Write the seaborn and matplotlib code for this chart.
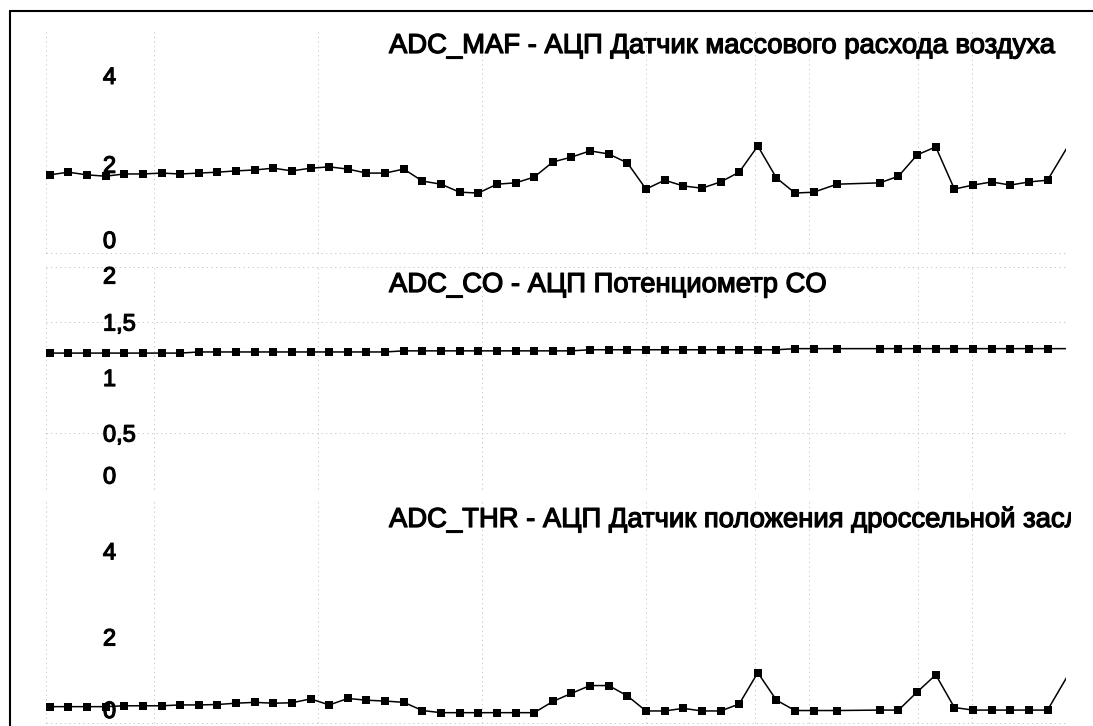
import matplotlib
matplotlib.use('Agg')
import matplotlib.pyplot as plt
import matplotlib.patheffects as pe
from matplotlib.lines import Line2D
from matplotlib.transforms import Bbox, TransformedBbox
import seaborn as sns

# sample times (sample index units; the log has a short gap near the end,
# the last sample lies past the right edge of the chart)
time_s = [0, 1, 2, 3, 4, 5, 6, 7, 8, 9,
          10, 11, 12, 13, 14, 15, 16, 17, 18, 19,
          20, 21, 22, 23, 24, 25, 26, 27, 28, 29,
          30, 31, 32, 33, 34, 35, 36, 37, 38, 39,
          40, 41, 42.25, 44.55, 45.55, 46.55, 47.55, 48.55, 49.55, 50.55,
          51.55, 52.55, 53.55, 55.55]

adc_maf = [1.76, 1.82, 1.76, 1.73, 1.78, 1.78, 1.80, 1.78, 1.80, 1.82,
           1.85, 1.87, 1.91, 1.85, 1.91, 1.94, 1.89, 1.80, 1.80, 1.89,
           1.62, 1.55, 1.37, 1.35, 1.55, 1.58, 1.71, 2.05, 2.16, 2.30,
           2.23, 2.03, 1.44, 1.64, 1.51, 1.46, 1.60, 1.82, 2.41, 1.69,
           1.35, 1.37, 1.55, 1.58, 1.73, 2.21, 2.39, 1.44, 1.53, 1.60,
           1.53, 1.60, 1.64, 3.04]

adc_co = [1.22, 1.22, 1.22, 1.22, 1.22, 1.22, 1.22, 1.22, 1.23, 1.23,
          1.23, 1.23, 1.23, 1.23, 1.23, 1.23, 1.23, 1.23, 1.23, 1.24,
          1.24, 1.24, 1.24, 1.24, 1.24, 1.24, 1.24, 1.24, 1.24, 1.25,
          1.25, 1.25, 1.25, 1.25, 1.25, 1.25, 1.25, 1.25, 1.25, 1.25,
          1.26, 1.26, 1.26, 1.26, 1.26, 1.26, 1.26, 1.26, 1.26, 1.26,
          1.26, 1.26, 1.26, 1.26]

adc_thr = [0.38, 0.38, 0.38, 0.38, 0.40, 0.40, 0.40, 0.42, 0.42, 0.43,
           0.46, 0.48, 0.46, 0.47, 0.56, 0.42, 0.57, 0.53, 0.51, 0.48,
           0.29, 0.24, 0.24, 0.24, 0.24, 0.24, 0.24, 0.50, 0.69, 0.87,
           0.87, 0.63, 0.28, 0.28, 0.34, 0.28, 0.28, 0.44, 1.17, 0.53,
           0.29, 0.29, 0.29, 0.30, 0.30, 0.72, 1.12, 0.36, 0.30, 0.30,
           0.30, 0.30, 0.30, 1.78]

titles = ['ADC_MAF - АЦП Датчик массового расхода воздуха',
          'ADC_CO - АЦП Потенциометр CO',
          'ADC_THR - АЦП Датчик положения дроссельной заслонки']

maf_ticks = [0, 2, 4]
maf_tick_labels = ['0', '2', '4']
co_ticks = [0, 0.5, 1, 1.5, 2]
co_tick_labels = ['0', '0,5', '1', '1,5', '2']
thr_ticks = [0, 2, 4]
thr_tick_labels = ['0', '2', '4']

# dotted grid lines seen on the printout
maf_hgrid = [0]
co_hgrid = [2, 1.5, 0.5]
thr_hgrid = [0]
vgrid_t = [-0.2, 5.58, 14.39, 23.19, 31.99, 37.84, 40.74, 46.59, 49.49]

sns.set_style('white')
plt.rcParams['font.family'] = ['Liberation Sans', 'DejaVu Sans']

W, H = 1093, 726
fig = plt.figure(figsize=(W / 100, H / 100), dpi=100)
fig.patch.set_facecolor('white')


def fx(px):
    return px / W


def fy(py):
    return 1 - py / H


# heavy toner look of the printout
ink = [pe.withStroke(linewidth=0.9, foreground='black')]

# (values, ticks, labels, ylim, hgrid, top px, bottom px, title baseline px)
panels = [
    (adc_maf, maf_ticks, maf_tick_labels, (0, 5), maf_hgrid, 31, 253, 53),
    (adc_co, co_ticks, co_tick_labels, (0, 2), co_hgrid, 266.5, 488.5, 292),
    (adc_thr, thr_ticks, thr_tick_labels, (0, 5.16), thr_hgrid, 501, 723, 527),
]

x_left, x_right = 46, 1066
grid_kw = dict(color='#bdbdbd', linewidth=0.6, linestyle=(0, (1.5, 4)), zorder=0)

for i, (vals, ticks, labels, ylim, hgrid, top, bottom, base) in enumerate(panels):
    ax = fig.add_axes([fx(x_left), fy(bottom), fx(x_right - x_left), (bottom - top) / H])
    ax.set_facecolor('none')
    sns.lineplot(x=time_s, y=vals, ax=ax, color='black', linewidth=1.1,
                 marker='s', markersize=6, markeredgewidth=0,
                 markerfacecolor='black', estimator=None, sort=False)
    ax.set_xlim(-0.2, 54.54)
    ax.set_ylim(*ylim)
    for v in hgrid:
        ax.axhline(v, clip_on=False, **grid_kw)
    for t in vgrid_t:
        ax.axvline(t, clip_on=False, **grid_kw)
    ax.set_xticks([])
    ax.set_yticks(ticks)
    ax.set_yticklabels(labels)
    ax.tick_params(axis='y', length=0, pad=-41, labelsize=17, labelcolor='black')
    for tv, lab in zip(ticks, ax.get_yticklabels()):
        lab.set_ha('left')
        lab.set_path_effects(ink)
        if tv == ylim[0]:
            lab.set_va('bottom')
        elif tv == ylim[1]:
            lab.set_va('top')
    ax.set_xlabel('')
    ax.set_ylabel('')
    for s in ax.spines.values():
        s.set_visible(False)

    txt = fig.text(fx(389), fy(base), titles[i], ha='left', va='baseline',
                   fontsize=19.75, color='black', path_effects=ink)
    txt.set_clip_box(TransformedBbox(Bbox([[0, 0], [fx(1071), 1]]), fig.transFigure))

# page frame of the printout
fig.add_artist(Line2D([fx(10), 1.0], [fy(11), fy(11)], color='black', linewidth=1.5,
                      transform=fig.transFigure))
fig.add_artist(Line2D([fx(10), fx(10)], [fy(11), 0.0], color='black', linewidth=1.5,
                      transform=fig.transFigure))

fig.savefig('out.png', dpi=100, facecolor='white')
